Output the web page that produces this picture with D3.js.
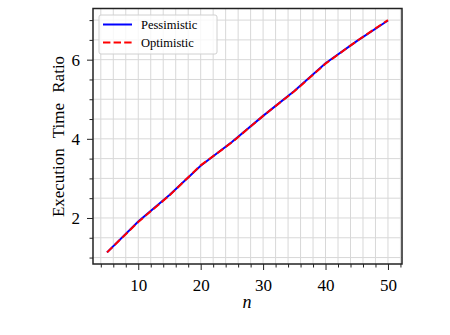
<!DOCTYPE html>
<html>
<head>
<meta charset="utf-8">
<script src="https://cdn.jsdelivr.net/npm/d3@7"></script>
<style>
  body { margin: 0; background: #fff; }
  text { font-family: "Liberation Serif", "DejaVu Serif", serif; fill: #000; }
</style>
</head>
<body>
<div id="chart"></div>
<script>
// Data
const nValues = [5, 10, 15, 20, 25, 30, 35, 40, 45, 50]
const pessimistic = [1.13, 1.91, 2.58, 3.32, 3.92, 4.58, 5.21, 5.91, 6.47, 6.99]
const optimistic = [1.13, 1.90, 2.57, 3.33, 3.91, 4.58, 5.20, 5.90, 6.47, 7.00]
const xTicks = [10, 20, 30, 40, 50]
const yTicks = [2, 4, 6]
const seriesNames = ['Pessimistic', 'Optimistic']

const width = 450
const height = 335
const margin = { top: 8.5, right: 48, bottom: 71, left: 93 }

const svg = d3.select('#chart')
  .append('svg')
  .attr('width', width)
  .attr('height', height)

const x = d3.scaleLinear()
  .domain([2.75, 52.25])
  .range([margin.left, width - margin.right])

const y = d3.scaleLinear()
  .domain([0.837, 7.293])
  .range([height - margin.bottom, margin.top])

const plotW = width - margin.left - margin.right
const plotH = height - margin.top - margin.bottom

// Grid lines at every minor tick
const xMinor = d3.range(4, 53, 2)
const yMinor = d3.range(1, 7.3, 0.5)

const grid = svg.append('g')
grid.selectAll('.vgrid')
  .data(xMinor)
  .enter().append('line')
  .attr('x1', d => x(d)).attr('x2', d => x(d))
  .attr('y1', margin.top).attr('y2', height - margin.bottom)
  .attr('stroke', '#d8d8d8').attr('stroke-width', 1)
grid.selectAll('.hgrid')
  .data(yMinor)
  .enter().append('line')
  .attr('y1', d => y(d)).attr('y2', d => y(d))
  .attr('x1', margin.left).attr('x2', width - margin.right)
  .attr('stroke', '#d8d8d8').attr('stroke-width', 1)

// Axes
svg.append('g')
  .attr('transform', `translate(0, ${height - margin.bottom})`)
  .call(d3.axisBottom(x).tickValues(xTicks).tickSize(6).tickPadding(9).tickFormat(d3.format('d')))
svg.append('g')
  .attr('transform', `translate(0, ${height - margin.bottom})`)
  .call(d3.axisBottom(x).tickValues(xMinor.filter(d => d % 10 !== 0)).tickSize(3.5).tickFormat(''))

svg.append('g')
  .attr('transform', `translate(${margin.left}, 0)`)
  .call(d3.axisLeft(y).tickValues(yTicks).tickSize(6).tickPadding(7).tickFormat(d3.format('d')))
svg.append('g')
  .attr('transform', `translate(${margin.left}, 0)`)
  .call(d3.axisLeft(y).tickValues(yMinor.filter(d => d % 2 !== 0)).tickSize(3.5).tickFormat(''))

svg.selectAll('.domain').remove()
svg.selectAll('.tick line').attr('stroke', '#222').attr('stroke-width', 1)
svg.selectAll('.tick text')
  .style('font-family', '"Liberation Serif", serif')
  .style('font-size', '17px')
  .attr('fill', '#000')

// Lines
const line = d3.line()
  .x((d, i) => x(nValues[i]))
  .y(d => y(d))

svg.append('path')
  .datum(pessimistic)
  .attr('d', line)
  .attr('fill', 'none')
  .attr('stroke', '#0000ff')
  .attr('stroke-width', 2)

svg.append('path')
  .datum(optimistic)
  .attr('d', line)
  .attr('fill', 'none')
  .attr('stroke', '#ff0000')
  .attr('stroke-width', 2)
  .attr('stroke-dasharray', '7.4,3.2')

// Frame
svg.append('rect')
  .attr('x', margin.left)
  .attr('y', margin.top)
  .attr('width', plotW)
  .attr('height', plotH)
  .attr('fill', 'none')
  .attr('stroke', '#222')
  .attr('stroke-width', 1.5)

// Legend
const legend = svg.append('g').attr('transform', 'translate(99, 15)')
legend.append('rect')
  .attr('width', 118)
  .attr('height', 39)
  .attr('rx', 2)
  .attr('fill', 'rgba(255,255,255,0.8)')
  .attr('stroke', '#d0d0d0')
  .attr('stroke-width', 1)

const legendItems = legend.selectAll('.item')
  .data(seriesNames)
  .enter().append('g')
  .attr('transform', (d, i) => `translate(0, ${9.5 + i * 18})`)

legendItems.append('line')
  .attr('x1', 4).attr('x2', 33)
  .attr('y1', 0).attr('y2', 0)
  .attr('stroke', (d, i) => i === 0 ? '#0000ff' : '#ff0000')
  .attr('stroke-width', 2)
  .attr('stroke-dasharray', (d, i) => i === 0 ? null : '7.4,3.2')

legendItems.append('text')
  .attr('x', 42)
  .attr('y', 4.3)
  .style('font-size', '12.5px')
  .text(d => d)

// Axis labels
svg.append('text')
  .attr('x', 247)
  .attr('y', 308)
  .attr('text-anchor', 'middle')
  .style('font-size', '18px')
  .style('font-style', 'italic')
  .text('n')

svg.append('text')
  .attr('transform', `translate(64, 136.5) rotate(-90)`)
  .attr('text-anchor', 'middle')
  .style('font-size', '17px')
  .style('word-spacing', '6px')
  .text('Execution Time Ratio')
</script>
</body>
</html>
